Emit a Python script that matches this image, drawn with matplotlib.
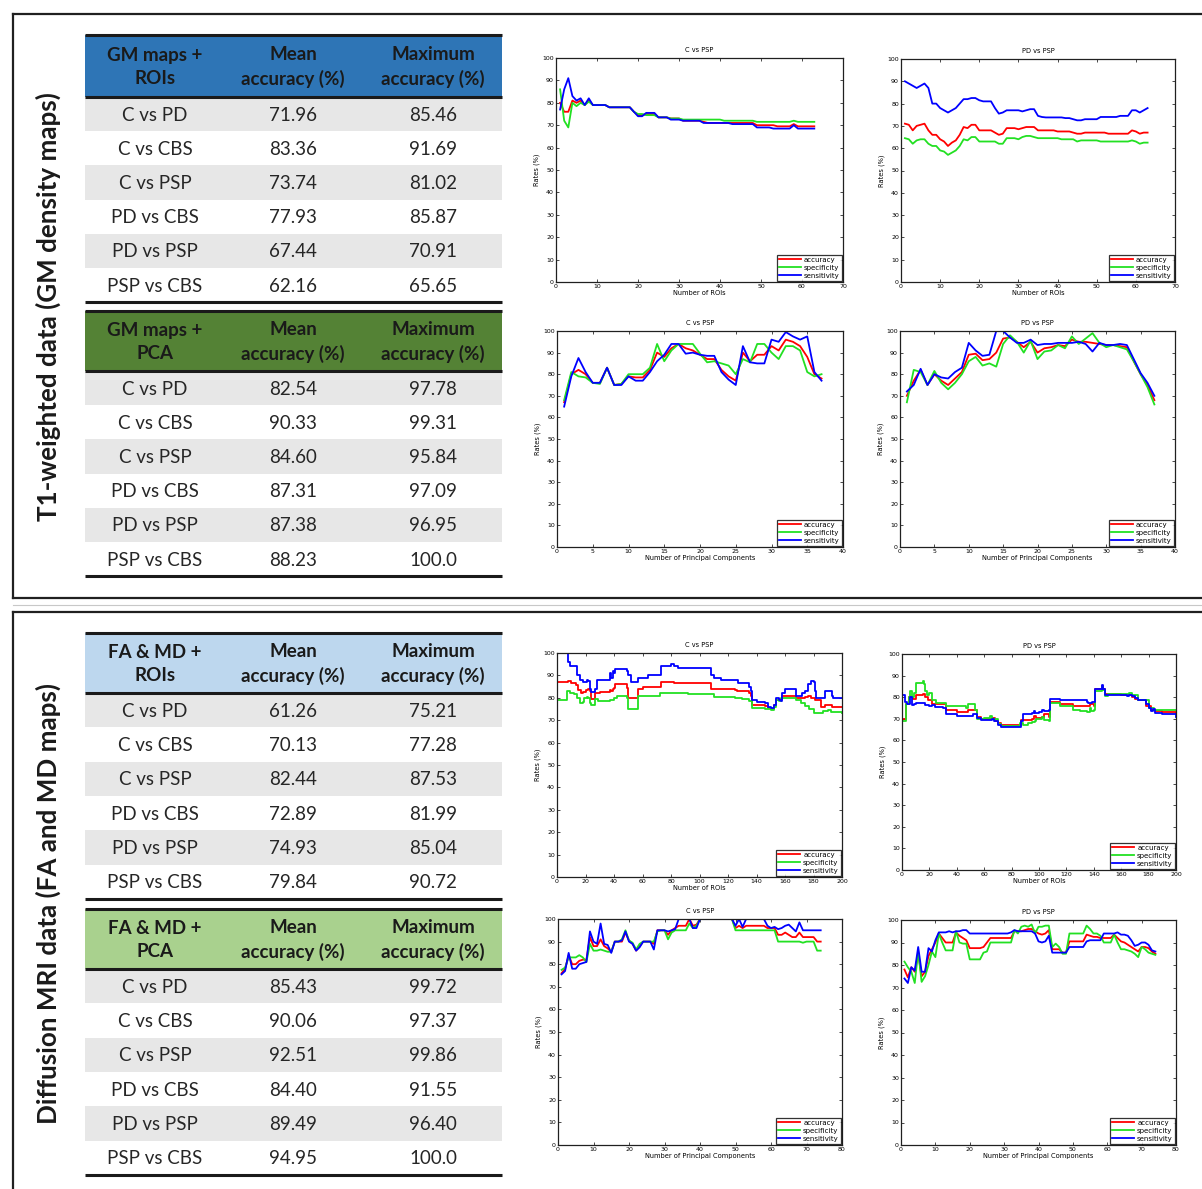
import matplotlib
matplotlib.use('Agg')
import matplotlib.pyplot as plt
from matplotlib.patches import Rectangle

# ------------------------------------------------------------------ data
comparisons = ["C vs PD", "C vs CBS", "C vs PSP", "PD vs CBS", "PD vs PSP", "PSP vs CBS"]
col_mean = "Mean\naccuracy (%)"
col_max = "Maximum\naccuracy (%)"

t1_roi_head = "GM maps +\nROIs"
t1_roi_mean = ["71.96", "83.36", "73.74", "77.93", "67.44", "62.16"]
t1_roi_max = ["85.46", "91.69", "81.02", "85.87", "70.91", "65.65"]

t1_pca_head = "GM maps +\nPCA"
t1_pca_mean = ["82.54", "90.33", "84.60", "87.31", "87.38", "88.23"]
t1_pca_max = ["97.78", "99.31", "95.84", "97.09", "96.95", "100.0"]

dti_roi_head = "FA & MD +\nROIs"
dti_roi_mean = ["61.26", "70.13", "82.44", "72.89", "74.93", "79.84"]
dti_roi_max = ["75.21", "77.28", "87.53", "81.99", "85.04", "90.72"]

dti_pca_head = "FA & MD +\nPCA"
dti_pca_mean = ["85.43", "90.06", "92.51", "84.40", "89.49", "94.95"]
dti_pca_max = ["99.72", "97.37", "99.86", "91.55", "96.40", "100.0"]

series_labels = ["accuracy", "specificity", "sensitivity"]

# T1 ROIs, C vs PSP (x = 1..63)
p1_acc = [80,76,76,81,80,81,79,81,79,79, 79,79,78,78,78,78,78,78,76,74.5,
          74.5,75,75,75,73.5,73.5,73.5,73,73,73, 72,72,72,72,72,71.5,71,71,71,71,
          71,71,71,71,71,71,71,71,70,70, 70,70,70,69.5,69.5,69.5,69.5,70.5,69.5,69.5,
          69.5,69.5,69.5]
p1_spe = [86,72,69,80,78.5,80,79,80.5,79,79, 79,79,78,78,78,78,78,78,76,75,
          75,74.5,74.5,74.5,73.5,73.5,73.5,73,73,73, 72.5,72.5,72.5,72.5,72.5,72.5,72.5,72.5,72.5,72.5,
          72,72,72,72,72,72,72,72,71.5,71.5, 71.5,71.5,71.5,71.5,71.5,71.5,71.5,72,71.5,71.5,
          71.5,71.5,71.5]
p1_sen = [77,86,91,83,81,82,79,82,79,79, 79,79,78,78,78,78,78,78,76,74,
          74,75.5,75.5,75.5,73.5,73.5,73.5,72.5,72.5,72.5, 72,72,72,72,72,71,71,71,71,71,
          71,71,70.5,70.5,70.5,70.5,70.5,70.5,69,69, 69,69,68.5,68.5,68.5,68.5,68.5,70,68.5,68.5,
          68.5,68.5,68.5]

# T1 ROIs, PD vs PSP (x = 1..63)
p2_acc = [71,70.5,68,70,70.5,71,68,66,66,64, 63,61,62.5,63.5,66,69.5,69,70.5,70.5,68,
          68,68,68,67,66,66.5,69,69,69,68.5, 69,69.5,69.5,69.5,68,68,68,68,68,67.5,
          67.5,67.5,67.5,67,66.5,66.5,67,67,67,67, 67,67,66.5,66.5,66.5,66.5,66.5,66.5,68,67.5,
          66.5,67,67]
p2_spe = [64.5,64,62,63.5,64,64,62,61,61,59, 58.5,57,58,59,61,64,63.5,65,65,63,
          63,63,63,63,62,62,64.5,64.5,64.5,64, 65,65.5,65.5,65,64.5,64.5,64.5,64.5,64.5,64.5,
          64,64,64,64,63,63.5,63.5,63.5,63.5,63.5, 63,63,63,63,63,63,63,63,63.5,63,
          62,62.5,62.5]
p2_sen = [90,89,88,87,88,89,87,80,80,78, 77,76,77,78,80,82,82,82.5,82.5,81.5,
          81,81,81,78,75.5,76,77,77,77,77, 76.5,77,77.5,77.5,74.5,74,73.8,73.8,73.8,73.8,
          73.8,73.5,73.5,73,72.5,72.5,73,73,73,73, 74,74,74,74,74,74.5,74.5,74.5,77,77,
          76,77,78]

# T1 PCA, C vs PSP (x = 1..37)
p3_acc = [67,80,82,80,76,76,83,75,75.5,79, 78.5,78.5,82,90,88,92,94,92,91,89,
          87,87,82,79,77,90,86,89,89,93, 91,96,95,93,88,80,78]
p3_spe = [68,81,79,78.5,76,75.5,83,75,75.5,80, 80,80,83,94,86,91,94,94,94,89.5,
          85.5,86,85,84,80,87,85.5,94,94,90, 87,93,93,91,81,79,80]
p3_sen = [65,79,87.5,81,76,76,83,75,75,79, 77,77,81,86,89,94,94,89.5,90,89,
          88.5,88.5,81,77.5,75,93,85.5,85,85,96, 95,99.5,97.5,96,97.5,81,77]

# T1 PCA, PD vs PSP (x = 1..37)
p4_acc = [70,77,82,75,80,77,75,78,81,89, 89.5,86.5,87,90,96.5,97,95,92.5,95,90,
          92,92.5,93.5,93,96,95,95,94.5,94,93.5, 93.5,93,92.5,86,80,75,68]
p4_spe = [67,82,81,75,81.5,76,73,76,80,86, 88,84,85,83.5,94,98,95,90,95.5,87,
          90.5,91,93.5,92,97.5,94,96.5,99,94.5,92.5, 93.5,92.5,91.5,86,80,74,66]
p4_sen = [72,75,82.5,75,80,78.5,78,81,83,94.5, 91,88.5,89,100,100,97,94.5,94.5,96,93.5,
          94,94,94.5,94.5,94.5,95,94,90.5,94.5,93.5, 93.5,94,93.5,87,80.5,76,70]

# DTI ROIs, C vs PSP (step breakpoints, x up to 200)
p5_acc_x = [1,8,10,13,15,17,18,20,22,23, 24,27,30,37,38,39,40,41,48,49, 50,56,57,60,72,73,80,82,107,108,
            125,126,135,136,137,146,148,150,152,154, 156,158,166,168,174,176,178,181,185,188, 191,193,200]
p5_acc_y = [87,87.5,86.5,85.5,83.5,82,82.5,83.5,84,83, 79.5,82,82.5,83.5,83,84,84.5,86,86,84.5,
            80,80,84,85,85,87,87,86.5,86.5,84, 83.5,83,82,81,77,76.5,75.5,75,77,79,
            79.5,81,81,80,80.5,81,80,79,76,77, 77,76,76]
p5_spe_x = [1,7,9,12,14,16,18,19,21,22, 23,24,27,29,37,40,42,48,49,50, 56,57,70,72,90,92,107,110,125,130,
            135,137,146,150,152,154,156,157,166,168, 171,174,177,180,185,187,190,192,200]
p5_spe_y = [79,83,82,81.5,80,77.5,78,80,80.5,80, 77.5,77,79.5,78.5,79,80,81,81,80,75,
            75,81,81,82,82,81.5,81.5,80.5,80,79.5, 78.5,75.5,75,74.5,76,79,78.5,80,80,79,
            77.5,76.5,75,73,73,74,74.5,73.5,73]
p5_sen_x = [1,8,9,12,14,16,18,21,22,23, 24,27,28,35,37,38,39,40,41,48, 49,50,52,56,57,63,64,72,73,79,
            80,82,85,107,108,110,115,125,127,135, 136,137,140,146,148,150,152,154,156,157,
            158,160,167,168,172,174,176,178,180,181, 182,187,188,191,193,194,200]
p5_sen_y = [100,96,94,94,90,88,87,88,87.5,84, 82.5,84,88,88,91,89,92,91,93,93,
            92,90,87,87,89,89,90,90,94,94, 95,94,93.5,93.5,90,89,88,88,86.5,85,
            83,79,78,77.5,76,75.5,77,80,79,78.5, 82,84,84,81,82,83,86,87.5,87,83,
            80,80,83,83,81,80,80]

# DTI ROIs, PD vs PSP (step breakpoints)
p6_acc_x = [1,3,5,8,10,15,17,19,21,22, 25,32,40,47,48,52,55,58,65,66, 68,70,72,85,87,95,96,98,102,104,
            107,108,115,125,133,137,140,141,146,147, 148,160,166,168,170,172,176,178,182,185, 190,200]
p6_acc_y = [70,77,80,79,81,81.5,80,78.5,78.5,77, 77,74,73,73,74,74,71,70,70,70.5,
            69,68,67,67,69.5,70,71.5,70.5,71,72, 71,78,77,76,76,77,76,84,85,84,
            81.5,81,81,80,79,78.5,78.5,76,74,73.5, 73,72.5]
p6_spe_x = [1,3,5,6,7,9,10,15,16,17, 18,20,22,25,32,40,47,48,52,53, 55,60,64,66,70,72,85,86,88,92,
            95,97,98,102,104,107,108,115,125,130, 135,137,138,140,141,146,147,148,150,166,
            168,172,177,180,184,188,200]
p6_spe_y = [69,77,80,83,80,82,86.5,87.5,86,83, 81,82,78.5,77.5,76,76,75,77,77,74,
            70,70.5,71.5,70,67.5,66.5,66.5,68,67,68, 68.5,69,70,71,69.5,69,77.5,76,74,73.5,
            73,75,73.5,74,83,84.5,83.5,80.5,81.5,82, 81,78.5,78.5,75,74,74,74]
p6_sen_x = [1,2,4,6,7,9,10,15,17,20, 22,24,30,32,40,50,52,55,58,65, 66,67,70,72,85,87,88,95,96,97,
            100,102,104,107,108,114,115,135,136,139, 141,146,147,148,153,164,166,168,170,172,
            177,178,180,182,183,185,190,200]
p6_sen_y = [81,78,77,80,76.5,77,77.5,77.5,76.5,76, 76.5,75.5,75,72,71.5,71.5,72,70.5,69.5,69.5,
            70,69,67,66,66,69,72,72.5,73.5,72.5, 73,74,73.5,74,79,79,78.5,78,77.5,78,
            84,85.5,84,81,81,80.5,81,80.5,79.5,78.5, 78.5,77,75,73.5,74.5,72.5,72,71]

# DTI PCA, C vs PSP (x = 1..74)
p7_acc = [76,78,84,80,80,81.5,82,82,92,88, 88,91,88,87,85.5,90,90,90,94,90.5,
          89,86,88,90,90,90,89,95,95,95, 93,95,96,97,97,97,100,97,97.5,100,
          100,100,100,100,100,100,100,100,100,96, 97,96,97,97,97,97,97,97,96,96,
          96,93,93,94,93,92,92,94,92,92, 92,92,90,90]
p7_spe = [77.5,78.5,83,83,83,84,83,81,89,86, 86,86.5,86,85.5,85.5,90,90,91,95,90.5,
          89.5,86.5,89,90,90,90,90,94.5,95,95, 91,94,95,95,95,95,98,96,97,100,
          100,100,100,100,100,100,100,100,100,95, 95,95,95,95,95,95,95,95,95,95,
          95,90,90,90,90,90,90,90,89.5,90, 90,90,86,86]
p7_sen = [75.5,77,85,78,78,80,80.5,81,94.5,90, 89,98,89,88.5,85,90,90,90.5,94.5,90,
          89,86,87.5,90,90,90,86.5,95,95,95, 94.5,95,95.5,100,100,100,100,96,96,100,
          100,100,100,100,100,100,100,100,100,97, 100,96.5,100,100,100,100,100,100,97,96,
          96.5,95.5,96,97,97.5,96,94.5,98.5,95,95, 95,95,95,95]

# DTI PCA, PD vs PSP (x = 1..74)
p8_acc = [78,74.5,79,77,85,75,77,84,87,90, 94,92,90,90,90,94.5,93,92,91,87.5,
          87.5,87.5,87.5,88,90,92,92,92,92,92, 92,92,95,95,95,95.5,96,96,95,94,
          93.5,94,95.5,87,87,87,85.5,85.5,90.5,90.5, 90.5,90.5,90.5,93.5,93,92.5,92.5,92,92,92,
          92,93.5,92,90.5,90,89,88,87,86,88, 88,87.5,86,85]
p8_spe = [81.5,79,77,72,86,72.5,75,80,86,83.5, 94,90,86.5,86.5,86.5,95,90,89.5,89.5,82.5,
          82.5,82.5,82.5,85.5,86,90,90,90,90,90, 90,90,95.5,94,97,97.5,97,98,94,97,
          97,97.5,97.5,88,89.5,88,85,85,94,94, 94,94,94,97.5,96,94,94,93,90,90,
          90,93.5,90,87,87,86.5,86,85,83.5,88, 87,85.5,85,84.5]
p8_sen = [74,72,79,77.5,88,77,77,87.5,86,91, 94.5,94.5,94.5,95,94.5,95,95,95.5,95.5,94,
          94,94,94,94,94,94,94,94,94,94, 94,94.5,95.5,95,95,95,95,95,94,90.5,
          90,90.5,93,85.5,85.5,85.5,85.5,85.5,88,88, 88,88,88,90.5,91,91,91,91,94,94,
          94,94,94.5,93.5,93.5,93,91,88.5,89,90, 90,89,86.5,86]

# ------------------------------------------------------------------ figure
W, H = 1202, 1189
fig = plt.figure(figsize=(W / 100, H / 100), dpi=100)
fig.patch.set_facecolor('white')

FONT = ['Lato', 'DejaVu Sans']
TXT = '#262626'

bg = fig.add_axes([0, 0, 1, 1])
bg.set_xlim(0, W)
bg.set_ylim(H, 0)
bg.axis('off')

# panel frames
bg.plot([13, W], [14, 14], color='#202020', lw=1.6)
bg.plot([13, 13], [14, 598], color='#202020', lw=1.6)
bg.plot([13, W], [598, 598], color='#202020', lw=1.6)
bg.plot([13, W], [605, 605], color='#c8c8c8', lw=0.8)
bg.plot([13, W], [612, 612], color='#202020', lw=1.6)
bg.plot([13, 13], [612, H], color='#202020', lw=1.6)

bg.text(48, 307, "T1-weighted data (GM density maps)", rotation=90, ha='center',
        va='center', fontsize=18.7, fontweight='bold', color='#1a1a1a', family=FONT)
bg.text(48, 903, "Diffusion MRI data (FA and MD maps)", rotation=90, ha='center',
        va='center', fontsize=18.7, fontweight='bold', color='#1a1a1a', family=FONT)

TX0, TX1 = 85, 502
COLX = [155, 293, 433]


def draw_table(top, hdr_bot, row_h, color, head, means, maxs):
    bg.add_patch(Rectangle((TX0, top), TX1 - TX0, hdr_bot - top, facecolor=color,
                           edgecolor='none'))
    for i in range(len(comparisons)):
        y0 = hdr_bot + i * row_h
        if i % 2 == 0:
            bg.add_patch(Rectangle((TX0, y0), TX1 - TX0, row_h, facecolor='#e7e7e7',
                                   edgecolor='none'))
        yc = y0 + row_h / 2
        for cx, s in zip(COLX, [comparisons[i], means[i], maxs[i]]):
            bg.text(cx, yc + 1, s, ha='center', va='center', fontsize=13.5,
                    color=TXT, family=FONT)
    bottom = hdr_bot + len(comparisons) * row_h
    for yy in (top, hdr_bot, bottom):
        bg.plot([TX0, TX1], [yy, yy], color='#1a1a1a', lw=2.2, solid_capstyle='butt')
    hc = (top + hdr_bot) / 2
    for cx, s in zip(COLX, [head, col_mean, col_max]):
        bg.text(cx, hc + 1, s, ha='center', va='center', fontsize=13.5,
                fontweight='bold', color='#1a1a1a', family=FONT, linespacing=1.45,
                multialignment='center')


draw_table(35, 97, 34.2, '#2e75b6', t1_roi_head, t1_roi_mean, t1_roi_max)
draw_table(311, 371, 34.2, '#548235', t1_pca_head, t1_pca_mean, t1_pca_max)
draw_table(633, 693, 34.3, '#bdd7ee', dti_roi_head, dti_roi_mean, dti_roi_max)
draw_table(909, 969, 34.3, '#a9d18e', dti_pca_head, dti_pca_mean, dti_pca_max)

COLORS = ['#ff0000', '#22e022', '#0000ff']


def small_plot(rect, series, xmax, xstep, title, xlabel, step=False):
    l, r, t, b = rect
    ax = fig.add_axes([l / W, 1 - b / H, (r - l) / W, (b - t) / H])
    for (xs, ys), c, lab in zip(series, COLORS, series_labels):
        ax.plot(xs, ys, color=c, lw=1.3, label=lab,
                drawstyle='steps-post' if step else 'default')
    ax.set_xlim(0, xmax)
    ax.set_ylim(0, 100)
    ax.set_xticks(range(0, xmax + 1, xstep))
    ax.set_yticks(range(0, 101, 10))
    ax.tick_params(direction='in', top=True, right=True, length=2, width=0.5,
                   labelsize=4.5, pad=1.5)
    for sp in ax.spines.values():
        sp.set_linewidth(0.9)
        sp.set_color('#202020')
    ax.set_title(title, fontsize=4.8, pad=4)
    ax.set_xlabel(xlabel, fontsize=4.8, labelpad=1)
    ax.set_ylabel("Rates (%)", fontsize=4.8, labelpad=2)
    leg = ax.legend(loc='lower right', fontsize=5, frameon=True, fancybox=False,
                    edgecolor='black', borderpad=0.25, handlelength=3.2,
                    labelspacing=0.3, handletextpad=0.4, borderaxespad=0.2)
    leg.get_frame().set_linewidth(0.9)
    return ax


x63 = list(range(1, 64))
x37 = list(range(1, 38))
x74 = list(range(1, 75))

small_plot((556, 843, 58, 282), [(x63, p1_acc), (x63, p1_spe), (x63, p1_sen)],
           70, 10, "C vs PSP", "Number of ROIs")
small_plot((901, 1175, 59, 282), [(x63, p2_acc), (x63, p2_spe), (x63, p2_sen)],
           70, 10, "PD vs PSP", "Number of ROIs")
small_plot((557, 843, 331, 547), [(x37, p3_acc), (x37, p3_spe), (x37, p3_sen)],
           40, 5, "C vs PSP", "Number of Principal Components")
small_plot((900, 1175, 331, 547), [(x37, p4_acc), (x37, p4_spe), (x37, p4_sen)],
           40, 5, "PD vs PSP", "Number of Principal Components")
small_plot((557, 842, 653, 877), [(p5_acc_x, p5_acc_y), (p5_spe_x, p5_spe_y), (p5_sen_x, p5_sen_y)],
           200, 20, "C vs PSP", "Number of ROIs", step=True)
small_plot((902, 1176, 654, 870), [(p6_acc_x, p6_acc_y), (p6_spe_x, p6_spe_y), (p6_sen_x, p6_sen_y)],
           200, 20, "PD vs PSP", "Number of ROIs", step=True)
small_plot((558, 842, 919, 1145), [(x74, p7_acc), (x74, p7_spe), (x74, p7_sen)],
           80, 10, "C vs PSP", "Number of Principal Components")
small_plot((901, 1176, 920, 1145), [(x74, p8_acc), (x74, p8_spe), (x74, p8_sen)],
           80, 10, "PD vs PSP", "Number of Principal Components")

fig.savefig('out.png', dpi=100, facecolor='white')
